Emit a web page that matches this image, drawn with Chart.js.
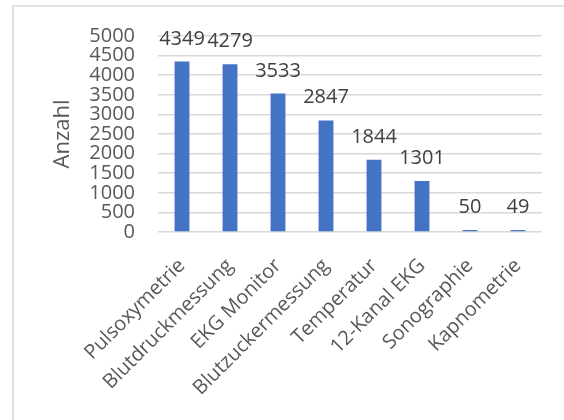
<!DOCTYPE html>
<html>
<head>
<meta charset="utf-8">
<script src="https://cdn.jsdelivr.net/npm/chart.js@4/dist/chart.umd.min.js"></script>
<style>
  html, body { margin: 0; padding: 0; background: #ffffff; }
  #wrap { position: relative; width: 564px; height: 420px; }
  canvas { display: block; }
</style>
</head>
<body>
<div id="wrap"><canvas id="c" width="564" height="420"></canvas></div>
<script>
// Untersuchungen und ihre Häufigkeit
const categories = ["Pulsoxymetrie", "Blutdruckmessung", "EKG Monitor", "Blutzuckermessung",
                    "Temperatur", "12-Kanal EKG", "Sonographie", "Kapnometrie"];
const counts = [4349, 4279, 3533, 2847, 1844, 1301, 50, 49];
const yTicks = [0, 500, 1000, 1500, 2000, 2500, 3000, 3500, 4000, 4500, 5000];
const yTitle = "Anzahl";

const FONT = "'Open Sans', 'DejaVu Sans', sans-serif";

// thin grey frame around the chart object
const framePlugin = {
  id: 'frame',
  beforeDraw(chart) {
    const ctx = chart.ctx;
    ctx.save();
    ctx.fillStyle = '#ffffff';
    ctx.fillRect(0, 0, chart.width, chart.height);
    ctx.strokeStyle = '#d9d9d9';
    ctx.lineWidth = 1.5;
    ctx.beginPath();
    ctx.moveTo(13, chart.height + 5);
    ctx.lineTo(13, 6);
    ctx.lineTo(chart.width + 5, 6);
    ctx.stroke();
    ctx.restore();
  }
};

// value labels above each bar
const valueLabels = {
  id: 'valueLabels',
  afterDatasetsDraw(chart) {
    const ctx = chart.ctx;
    const meta = chart.getDatasetMeta(0);
    ctx.save();
    ctx.font = "20px " + FONT;
    ctx.fillStyle = '#404040';
    ctx.textAlign = 'center';
    ctx.textBaseline = 'alphabetic';
    meta.data.forEach((bar, i) => {
      const v = chart.data.datasets[0].data[i];
      ctx.fillText(String(v), bar.x, bar.y - 17);
    });
    ctx.restore();
  }
};

new Chart(document.getElementById('c'), {
  type: 'bar',
  data: {
    labels: categories,
    datasets: [{
      data: counts,
      backgroundColor: '#4472c4',
      borderWidth: 0,
      categoryPercentage: 1,
      barPercentage: 0.31
    }]
  },
  options: {
    responsive: false,
    animation: false,
    devicePixelRatio: 1,
    layout: { padding: { top: 36, right: 22, bottom: 0, left: 0 } },
    plugins: {
      legend: { display: false },
      tooltip: { enabled: false }
    },
    scales: {
      x: {
        grid: { display: false, drawTicks: false },
        border: { display: false },
        ticks: {
          color: '#595959',
          font: { family: FONT, size: 20 },
          maxRotation: 45,
          minRotation: 45,
          autoSkip: false,
          padding: 22
        },
        afterFit(scale) { scale.height = 188; }
      },
      y: {
        min: 0,
        max: 5000,
        afterBuildTicks(scale) { scale.ticks = yTicks.map(v => ({ value: v })); },
        grid: { color: '#d9d9d9', lineWidth: 1.5, drawTicks: false },
        border: { display: false },
        ticks: {
          color: '#595959',
          font: { family: FONT, size: 20, lineHeight: 1 },
          padding: 23,
          autoSkip: false,
          callback: (v) => String(v)
        },
        title: {
          display: true,
          text: yTitle,
          color: '#595959',
          font: { family: FONT, size: 22 },
          padding: { top: 50, bottom: 0 }
        },
        afterFit(scale) { scale.width = 158; }
      }
    }
  },
  plugins: [framePlugin, valueLabels]
});
</script>
</body>
</html>
